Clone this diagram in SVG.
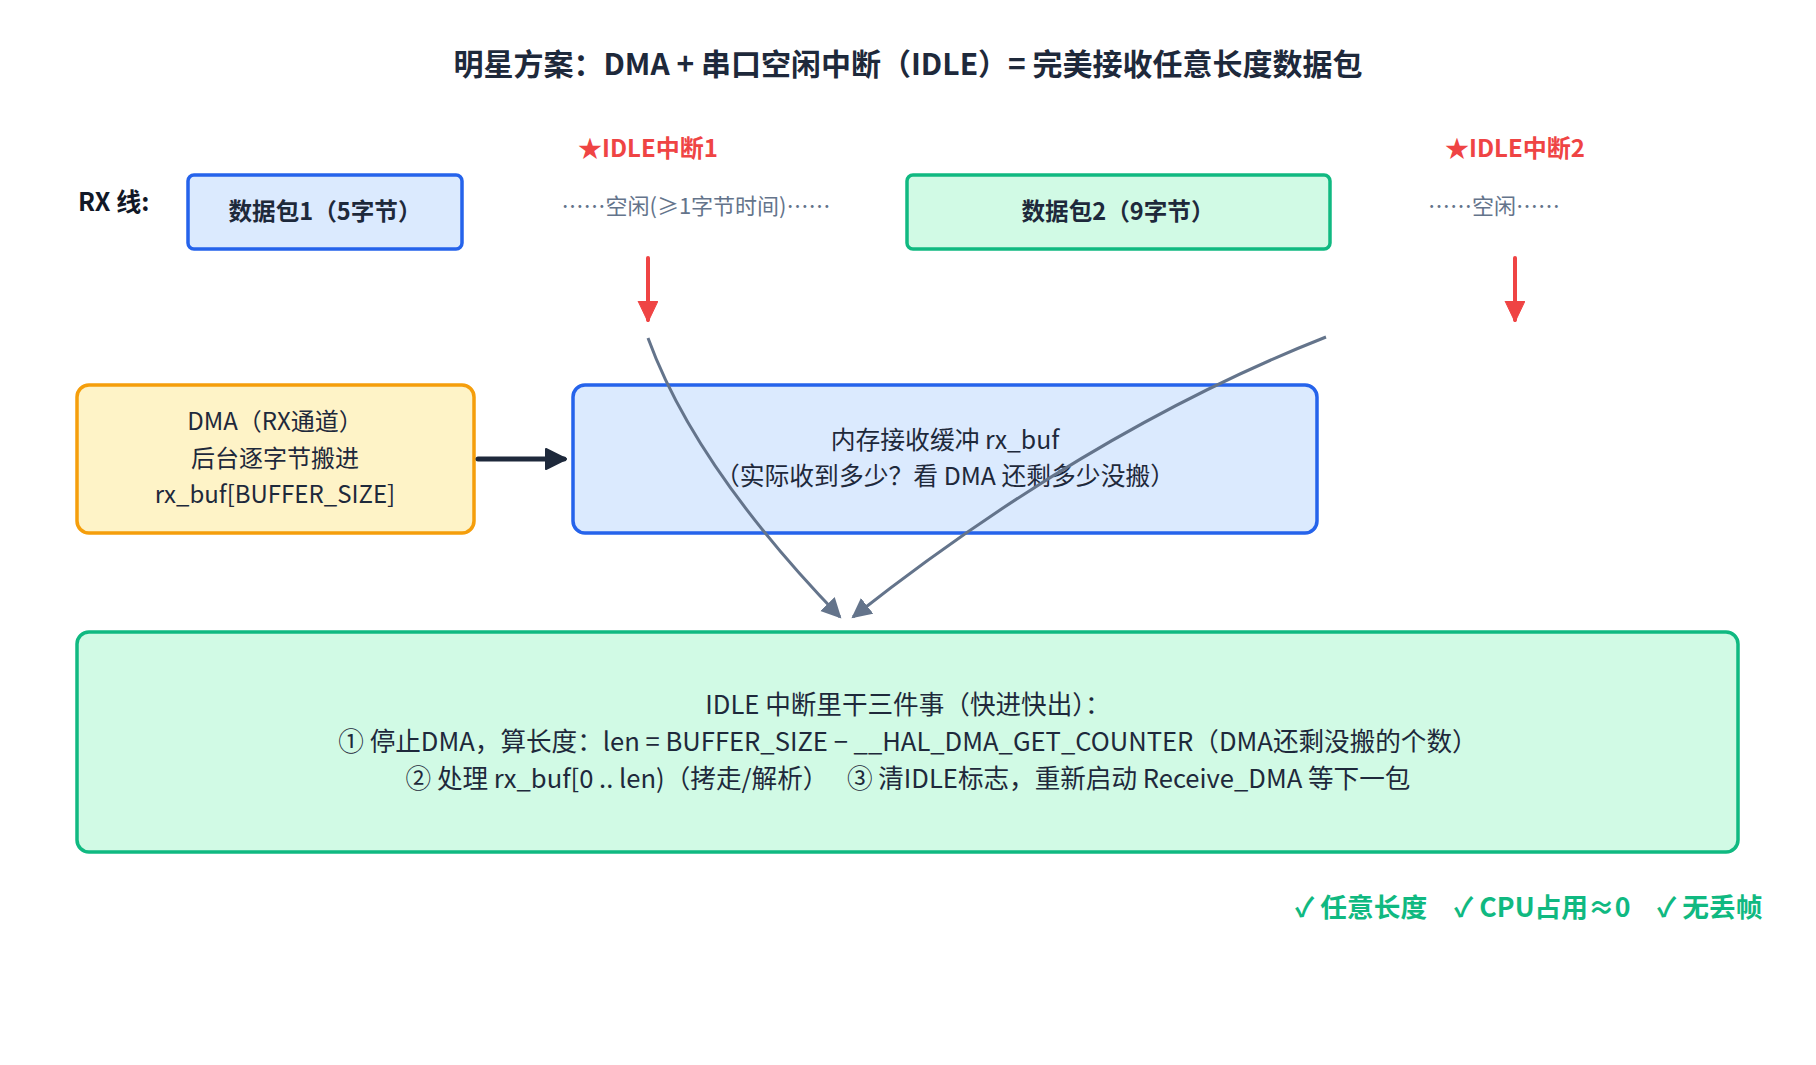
<svg xmlns="http://www.w3.org/2000/svg" width="1816" height="1065" viewBox="0 0 1816 1065">
<style>
text{font-family:"Noto Sans CJK SC","Noto Sans",sans-serif;}
.title{font-size:30px;font-weight:bold;fill:#1e293b;text-anchor:middle;}
.lbl{font-size:25px;font-weight:bold;fill:#111827;}
.pk{font-size:23.6px;font-weight:bold;fill:#1e293b;text-anchor:middle;dominant-baseline:central;}
.idle{font-size:24px;font-weight:bold;fill:#ef4444;text-anchor:middle;dominant-baseline:central;}
.gap{font-size:22px;fill:#64748b;text-anchor:middle;dominant-baseline:central;}
.body{font-size:24px;fill:#1e293b;text-anchor:middle;dominant-baseline:central;}
.mem{font-size:24.8px;}
.isr{font-size:25.6px;}
.ok{font-size:26.7px;font-weight:bold;fill:#10b981;dominant-baseline:central;}
.blue{fill:#dbeafe;stroke:#2563eb;stroke-width:3.5;}
.green{fill:#d1fae5;stroke:#10b981;stroke-width:3.5;}
.yellow{fill:#fef3c7;stroke:#f59e0b;stroke-width:3.5;}
</style>
<defs>
<marker id="ar" markerUnits="userSpaceOnUse" markerWidth="22" markerHeight="22" refX="19" refY="10" orient="auto"><path d="M0,0 L21,10 L0,20 Z" fill="#ef4444" stroke="#ef4444" stroke-width="1" stroke-linejoin="round"/></marker>
<marker id="ad" markerUnits="userSpaceOnUse" markerWidth="24" markerHeight="24" refX="19" refY="11" orient="auto"><path d="M1,1 L21,11 L1,21 Z" fill="#1e293b" stroke="#1e293b" stroke-width="2" stroke-linejoin="round"/></marker>
<marker id="ag" markerUnits="userSpaceOnUse" markerWidth="22" markerHeight="22" refX="18" refY="10" orient="auto"><path d="M0,0 L20,10 L0,20 Z" fill="#64748b"/></marker>
</defs>
<rect width="1816" height="1065" fill="#ffffff"/>
<text class="title" x="908" y="75">明星方案：DMA + 串口空闲中断（IDLE）= 完美接收任意长度数据包</text>
<text class="lbl" x="78" y="211">RX 线:</text>
<g id="pkt1"><rect class="blue" x="188" y="175" width="274" height="74" rx="6"/><text class="pk" x="325" y="210">数据包1（5字节）</text></g>
<g id="idle1"><text class="idle" x="648" y="146">★IDLE中断1</text><text class="gap" x="696" y="204">……空闲(≥1字节时间)……</text></g>
<g id="pkt2"><rect class="green" x="907" y="175" width="423" height="74" rx="6"/><text class="pk" x="1118" y="210">数据包2（9字节）</text></g>
<g id="idle2"><text class="idle" x="1515" y="146">★IDLE中断2</text><text class="gap" x="1494" y="204">……空闲……</text></g>
<g id="dma"><rect class="yellow" x="77" y="385" width="397" height="148" rx="12"/>
<text class="body" x="275" y="419">DMA（RX通道）</text>
<text class="body" x="275" y="456">后台逐字节搬进</text>
<text class="body" x="275" y="492">rx_buf[BUFFER_SIZE]</text></g>
<g id="mem"><rect class="blue" x="573" y="385" width="744" height="148" rx="12"/>
<text class="body mem" x="945" y="438">内存接收缓冲 rx_buf</text>
<text class="body mem" x="945" y="474">（实际收到多少？看 DMA 还剩多少没搬）</text></g>
<g id="isr"><rect class="green" x="77" y="632" width="1661" height="220" rx="12"/>
<text class="body isr" x="908" y="702">IDLE 中断里干三件事（快进快出）：</text>
<text class="body isr" x="908" y="739">① 停止DMA，算长度：len = BUFFER_SIZE − __HAL_DMA_GET_COUNTER（DMA还剩没搬的个数）</text>
<text class="body isr" x="908" y="776">② 处理 rx_buf[0 .. len)（拷走/解析）　 ③ 清IDLE标志，重新启动 Receive_DMA 等下一包</text></g>
<g id="benefits"><text class="ok" x="1295" y="905">✓ 任意长度</text><text class="ok" x="1454" y="905">✓ CPU占用≈0</text><text class="ok" x="1657" y="905">✓ 无丢帧</text></g>
<g id="connectors" fill="none">
<line x1="648" y1="258" x2="648" y2="320" stroke="#ef4444" stroke-width="4" stroke-linecap="round" marker-end="url(#ar)"/>
<line x1="1515" y1="258" x2="1515" y2="320" stroke="#ef4444" stroke-width="4" stroke-linecap="round" marker-end="url(#ar)"/>
<line x1="478" y1="459" x2="564" y2="459" stroke="#1e293b" stroke-width="5" stroke-linecap="round" marker-end="url(#ad)"/>
<path d="M648,338 Q695,467 840,617" stroke="#64748b" stroke-width="3" marker-end="url(#ag)"/>
<path d="M1326,337 Q1090,430 853,617" stroke="#64748b" stroke-width="3" marker-end="url(#ag)"/>
</g>
</svg>
